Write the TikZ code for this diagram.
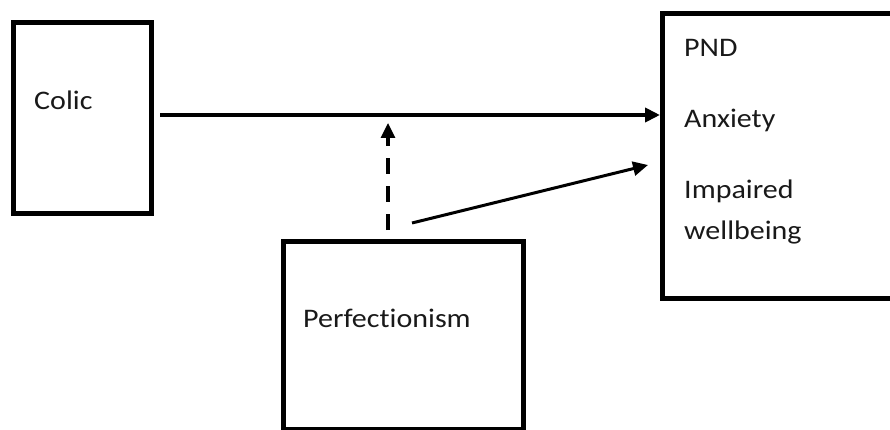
\documentclass[tikz,border=0pt]{standalone}
\usepackage{fontspec}
\setmainfont{Carlito}[FakeStretch=1.12, Ligatures=NoCommon]
\usetikzlibrary{arrows.meta}
\begin{document}
\begin{tikzpicture}[x=1pt,y=-1pt,
  boxstyle/.style={draw, line width=5pt, inner sep=0pt, outer sep=0pt},
  lbl/.style={anchor=base west, inner sep=0pt, text=black!90, font=\fontsize{26.8}{30}\selectfont},
  tipstyle/.style={-{Triangle[length=15pt,width=14pt]}}
]
\useasboundingbox (0,0) rectangle (890,430);
\clip (0,0) rectangle (890,430);
% boxes
\node[boxstyle, minimum width=138.5pt, minimum height=191pt] (colic) at (82.25,118) {};
\node[boxstyle, minimum width=240pt, minimum height=188pt] (perf) at (403,335) {};
\node[boxstyle, minimum width=243pt, minimum height=284pt] (out) at (783.5,156) {};
% labels
\node[lbl] (tcolic) at (34,110) {Colic};
\node[lbl] (tperf) at (303,327) {Perfectionism};
\node[lbl] (tpnd) at (684,57) {PND};
\node[lbl] (tanx) at (684,128) {Anxiety};
\node[lbl] (timp) at (684,199) {Impaired};
\node[lbl] (twell) at (684,240) {wellbeing};
% connector ends
\coordinate (m1) at (160,115);
\coordinate (m2) at (660,115);
\coordinate (d1) at (388,230);
\coordinate (d2) at (388,123);
\coordinate (s1) at (412,223);
\coordinate (s2) at (648,165);
% connectors
\draw[tipstyle, line width=4pt] (m1) -- (m2);
\draw[tipstyle, line width=3.2pt, dash pattern=on 16pt off 12pt] (d1) -- (d2);
\draw[tipstyle, line width=3pt] (s1) -- (s2);
\end{tikzpicture}
\end{document}
